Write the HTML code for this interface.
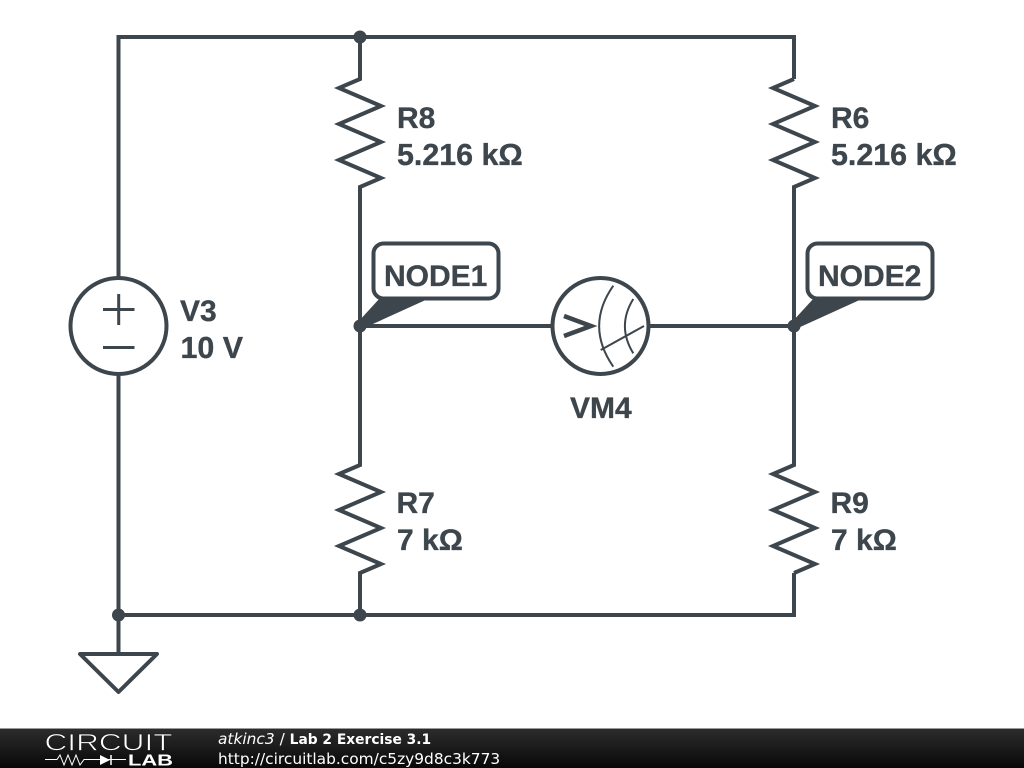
<!DOCTYPE html>
<html><head><meta charset="utf-8"><style>
html,body{margin:0;padding:0;background:#fff;width:1024px;height:768px;overflow:hidden}
svg{display:block}
.t{font-family:"Liberation Sans",sans-serif;font-weight:bold;font-size:30px;fill:#3d464c;stroke:#3d464c;stroke-width:.35}
.w{font-size:30.4px}
.f{font-family:"DejaVu Sans",sans-serif;font-size:15.4px;fill:#fff}
</style></head><body>
<svg width="1024" height="768" viewBox="0 0 1024 768" xmlns="http://www.w3.org/2000/svg">
<defs><linearGradient id="g" x1="0" y1="0" x2="0" y2="1"><stop offset="0" stop-color="#2c2c2c"/><stop offset="1" stop-color="#080808"/></linearGradient></defs>
<rect width="1024" height="768" fill="#fff"/>
<g fill="none" stroke="#3d464c" stroke-width="4" stroke-linejoin="miter">
<path d="M118.500 278V37H794V79"/>
<path d="M118.500 374V654"/>
<path d="M118.500 615H794V573"/>
<path d="M360 37V79L339 88L381 106L339 124L381 142L339 160L381 178L360 187V465L339 474L381 492L339 510L381 528L339 546L381 564L360 573V615"/>
<path d="M794 79L773 88L815 106L773 124L815 142L773 160L815 178L794 187V465L773 474L815 492L773 510L815 528L773 546L815 564L794 573"/>
<path d="M360 326H552M649 326H794"/>
<circle cx="118.500" cy="326" r="48"/>
<circle cx="600.500" cy="326" r="48"/>
<path d="M103 309.500H134.500M118.700 294V325M103 347.500H134.500" stroke-width="3"/>
<path d="M564 316L591 326L564 336" stroke-width="4.500"/>
<path d="M613.300 285.700Q585 326 613.300 366.700M633.300 299Q616.500 326 633.300 353.300M600.700 350L644 326" stroke-width="2"/>
<path d="M80 654H157L118.500 692Z" stroke-linejoin="round"/>
<rect x="373.500" y="243.500" width="125" height="55" rx="10" fill="#fff"/>
<rect x="807.500" y="243.500" width="125" height="55" rx="10" fill="#fff"/>
</g>
<g fill="#3d464c">
<path d="M358 322L380 298H430L364 328Z"/>
<path d="M792 322L814 298H864L798 328Z"/>
<circle cx="360" cy="37" r="6.500"/>
<circle cx="360" cy="326" r="6.500"/>
<circle cx="794" cy="326" r="6.500"/>
<circle cx="118.500" cy="615" r="6.500"/>
<circle cx="360" cy="615" r="6.500"/>
</g>
<text class="t" x="397" y="128">R8</text>
<text class="t w" x="397" y="165">5.216 kΩ</text>
<text class="t" x="831" y="128">R6</text>
<text class="t w" x="831" y="165">5.216 kΩ</text>
<text class="t" x="396.500" y="513">R7</text>
<text class="t" x="397" y="550">7 kΩ</text>
<text class="t" x="830.500" y="513">R9</text>
<text class="t" x="831" y="550">7 kΩ</text>
<text class="t" x="180" y="321">V3</text>
<text class="t w" x="180.500" y="358">10 V</text>
<text class="t" x="570" y="418">VM4</text>
<text class="t" x="384" y="286">NODE1</text>
<text class="t" x="818" y="286">NODE2</text>
<rect x="0" y="728" width="1024" height="1" fill="#999"/>
<rect x="0" y="729" width="1024" height="39" fill="url(#g)"/>
<text x="44.500" y="750.500" font-family="Liberation Sans,sans-serif" font-size="24" fill="#fff" stroke="#1c1c1c" stroke-width="0.7" textLength="128" lengthAdjust="spacingAndGlyphs">CIRCUIT</text>
<text x="128" y="765.500" font-family="Liberation Sans,sans-serif" font-weight="bold" font-size="16" fill="#fff" textLength="45" lengthAdjust="spacingAndGlyphs">LAB</text>
<path d="M45 759.500H57L60 755L64 765L68 755L72 765L76 755L80 765L84 759.500H126" fill="none" stroke="#fff" stroke-width="1"/>
<path d="M100 755V765L110 760Z" fill="#fff"/><path d="M111 755V765" stroke="#fff" stroke-width="1.500"/>
<text class="f" x="218" y="744"><tspan font-style="italic">atkinc3</tspan> / <tspan font-weight="bold" font-size="13.8">Lab 2 Exercise 3.1</tspan></text>
<text class="f" x="218" y="764">http://circuitlab.com/c5zy9d8c3k773</text>
</svg>
</body></html>
